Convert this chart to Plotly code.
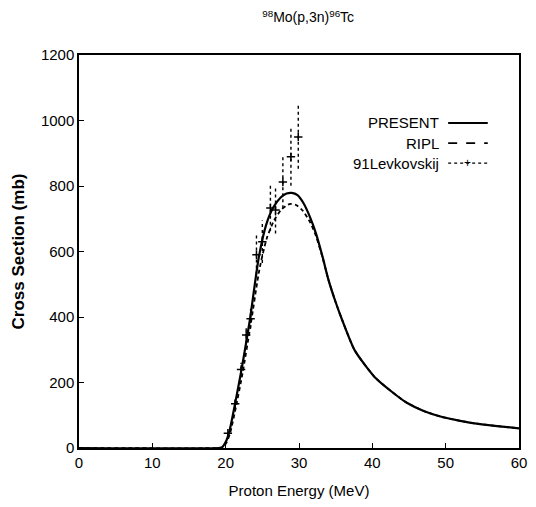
import plotly.graph_objects as go

# PRESENT calculation
present_e = [0, 19.0, 19.5, 20.0, 20.5, 21.3, 22.2, 23.3, 24.5, 25.5, 26.5, 27.5, 28.3, 29.0, 29.8, 30.6, 31.5, 32.3, 33.2, 34.0, 35.0, 35.9, 37.6, 40.3, 42.7, 44.7, 47.0, 49.3, 51.5, 53.7, 57.0, 60.0]
present_s = [0, 0, 2, 18, 50, 137, 244, 391, 580, 680, 735, 765, 777, 779, 772, 748, 705, 656, 585, 515, 445, 390, 298, 217, 171, 138, 113, 96, 85, 76, 67, 60]

# RIPL calculation
ripl_e = [0, 19.0, 19.6, 20.1, 20.6, 21.4, 22.3, 23.4, 24.6, 25.6, 26.6, 27.6, 28.7, 29.6, 30.5, 31.5, 32.3, 33.2, 34.0, 35.0, 35.9, 37.6, 40.3, 42.7, 44.7, 47.0, 49.3, 51.5, 53.7, 57.0, 60.0]
ripl_s = [0, 0, 2, 16, 45, 125, 228, 375, 545, 640, 695, 728, 745, 742, 725, 690, 648, 583, 515, 445, 390, 298, 217, 171, 138, 113, 96, 85, 76, 67, 60]

# 91Levkovskij experimental data
lev_e = [20.3, 21.3, 22.1, 22.8, 23.4, 24.2, 25.0, 26.1, 26.8, 27.8, 28.9, 29.9]
lev_s = [45, 135, 240, 345, 395, 590, 630, 733, 727, 812, 889, 950]
lev_err = [8, 15, 20, 25, 30, 60, 65, 70, 72, 80, 88, 97]

x_ticks = [0, 10, 20, 30, 40, 50, 60]
y_ticks = [0, 200, 400, 600, 800, 1000, 1200]

fig = go.Figure()
fig.add_trace(go.Scatter(x=present_e, y=present_s, mode="lines",
                         line=dict(color="black", width=2.2, shape="spline", smoothing=0.6), showlegend=False))
fig.add_trace(go.Scatter(x=ripl_e, y=ripl_s, mode="lines",
                         line=dict(color="black", width=1.8, dash="4px,3px", shape="spline", smoothing=0.6), showlegend=False))

# error bars as dotted vertical segments
ex, ey = [], []
for e, s, d in zip(lev_e, lev_s, lev_err):
    ex += [e, e, None]
    ey += [s - d, s + d, None]
fig.add_trace(go.Scatter(x=ex, y=ey, mode="lines", line=dict(color="black", width=1.4, dash="dot"), showlegend=False))
fig.add_trace(go.Scatter(x=lev_e, y=lev_s, mode="markers",
                         marker=dict(symbol="cross-thin", size=6, line=dict(color="black", width=1.5)),
                         error_y=dict(type="data", array=lev_err, color="rgba(0,0,0,0.8)", thickness=0, width=2),
                         showlegend=False))

font = "Liberation Sans, Arial, sans-serif"
fig.update_layout(
    width=536, height=507,
    margin=dict(l=79, r=9, t=55, b=59),
    paper_bgcolor="white", plot_bgcolor="white",
    font=dict(family=font, color="black", size=15),
    title=dict(text="<sup>98</sup>Mo(p,3n)<sup>96</sup>Tc", x=0.575, xanchor="center", y=0.975, yanchor="top",
               font=dict(size=14, family=font)),
    xaxis=dict(range=[0, 60], tickvals=x_ticks, ticktext=[str(v) for v in x_ticks],
               ticks="inside", ticklen=5, tickcolor="black", showline=True, linecolor="black", linewidth=1.5,
               mirror=True, showgrid=False, zeroline=False, tickfont=dict(size=15),
               title=dict(text="Proton Energy (MeV)", standoff=16, font=dict(size=15))),
    yaxis=dict(range=[0, 1200], tickvals=y_ticks, ticktext=[str(v) for v in y_ticks],
               ticks="inside", ticklen=5, tickcolor="black", showline=True, linecolor="black", linewidth=1.5,
               mirror=True, showgrid=False, zeroline=False, tickfont=dict(size=15),
               title=dict(text="<b>Cross Section (mb)</b>", standoff=12, font=dict(size=17))),
)

# custom legend (text right, sample on the right, gnuplot-style)
labels = ["PRESENT", "RIPL", "91Levkovskij"]
ys = [0.827, 0.776, 0.725]
dashes = ["solid", "dash", "dot"]
for lab, yy, dsh in zip(labels, ys, dashes):
    fig.add_annotation(text=lab, xref="paper", yref="paper", x=0.823, y=yy, xanchor="right", yanchor="middle",
                       showarrow=False, font=dict(size=15, family=font))
    fig.add_shape(type="line", xref="paper", yref="paper", x0=0.839, x1=0.929, y0=yy, y1=yy,
                  line=dict(color="black", width=1.8 if dsh != "dot" else 1.4, dash=dsh))
fig.add_annotation(text="+", xref="paper", yref="paper", x=0.884, y=ys[2], xanchor="center", yanchor="middle",
                   showarrow=False, font=dict(size=12, family=font))

fig.write_html("out.html")
